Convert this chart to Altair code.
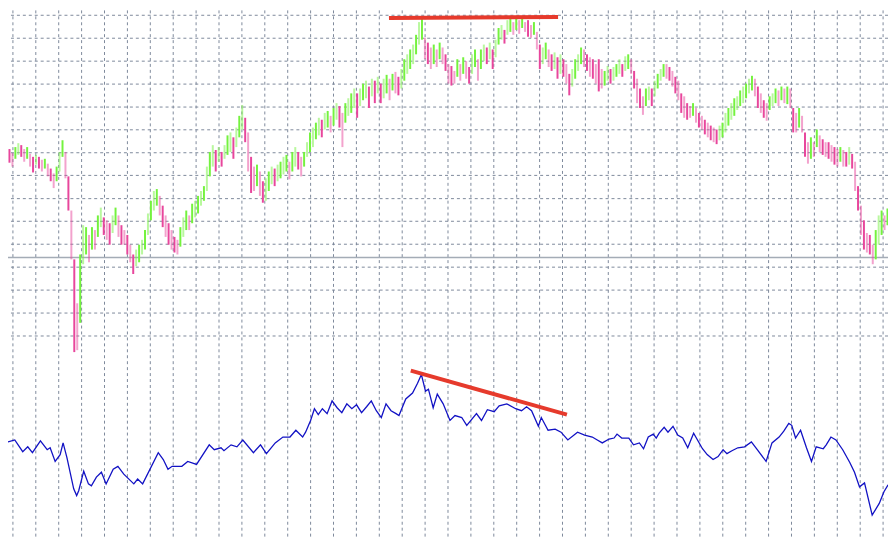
import altair as alt
import pandas as pd

# ---- price bars (values read as chart-depth units: 0 = top, larger = lower price) ----
bar_top = [
    142,146,140,136,138,142,140,147,150,148,
    150,153,152,157,162,167,160,145,133,145,
    170,205,255,300,250,220,222,230,222,225,
    210,202,212,215,218,210,202,210,220,225,
    230,240,250,245,240,235,225,208,195,185,
    183,190,200,210,218,225,232,235,222,212,
    205,210,198,195,190,185,180,160,145,138,
    143,140,145,138,128,125,130,120,108,97,
    110,125,150,160,158,165,175,172,165,160,
    162,158,155,150,148,155,145,140,145,150,
    145,135,125,120,115,110,112,105,103,108,
    100,95,98,105,95,90,85,80,85,80,
    75,72,78,70,72,68,75,70,66,70,
    65,63,68,60,50,45,40,35,25,12,
    7,28,33,38,35,40,33,38,45,55,
    57,62,50,55,48,52,58,45,40,50,
    40,35,38,33,40,30,18,15,20,10,
    8,12,6,10,8,12,10,15,12,22,
    35,38,33,40,45,43,48,45,50,55,
    65,60,50,45,38,40,45,48,50,55,
    50,60,62,57,60,58,55,50,55,47,
    45,50,62,70,80,88,80,78,80,72,
    65,60,55,55,58,62,68,72,85,88,
    95,98,95,100,105,108,112,115,118,120,
    122,118,115,105,100,95,90,88,82,78,
    75,70,67,70,78,85,92,95,88,85,
    80,82,78,80,78,80,100,105,100,108,
    125,135,130,135,122,128,132,135,135,138,
    140,142,140,143,145,140,147,155,180,200,
    215,228,230,240,225,210,205,210,203,
]
bar_bot = [
    156,160,152,148,150,155,152,160,166,158,
    162,165,162,170,175,182,175,165,150,172,
    205,255,350,348,320,260,250,258,245,245,
    232,222,230,235,240,228,220,232,240,240,
    250,258,270,262,258,250,245,230,215,205,
    200,210,222,232,240,245,248,250,242,232,
    225,225,218,212,208,200,195,185,170,160,
    165,155,160,152,148,145,152,140,130,122,
    135,165,187,185,180,190,197,195,185,178,
    180,175,172,168,165,173,165,160,163,170,
    160,150,145,140,132,128,130,122,120,125,
    118,112,120,140,115,108,105,100,110,98,
    92,90,100,88,95,85,95,90,85,92,
    82,85,87,80,72,65,60,55,45,35,
    30,50,55,60,55,58,50,55,62,75,
    77,75,68,72,65,70,75,65,58,72,
    60,52,55,50,60,48,35,30,34,25,
    22,25,20,24,18,22,27,28,25,40,
    60,55,50,58,62,60,70,65,68,75,
    87,78,70,62,55,58,62,68,70,75,
    83,80,77,72,75,72,68,65,68,62,
    60,65,80,95,100,107,98,92,98,88,
    80,72,68,70,72,78,85,92,105,110,
    112,110,108,115,120,122,127,130,133,135,
    137,133,130,125,118,112,108,102,98,95,
    90,85,82,88,100,105,110,113,102,98,
    95,98,92,95,96,100,125,125,120,125,
    150,157,152,150,140,145,148,150,152,155,
    158,160,155,160,160,158,162,185,205,230,
    245,248,250,260,255,240,230,225,220,
]

# ---- indicator line (time in bar index units, value in same depth units) ----
ind_t = [
    -0.5,1.8,4.5,6.2,7.8,10.5,12.8,13.8,15.5,17.2,18.2,19.5,21.8,22.8,23.5,25.2,
    26.8,27.8,29.5,31.2,32.8,35.2,36.8,38.8,42.2,43.5,45.2,50.5,52.2,53.8,55.2,
    58.5,60.5,63.5,67.8,69.5,71.8,72.8,75.2,77.2,79.2,82.8,85.2,87.2,90.2,92.8,
    95.2,97.2,99.5,100.5,102.2,103.5,104.8,106.2,107.8,109.5,111.2,112.8,114.5,
    116.2,117.8,119.5,121.2,122.8,124.5,126.2,127.8,129.5,131.2,132.2,134.5,136.8,
    138.5,139.8,141.2,142.2,143.8,145.2,147.2,149.5,151.2,153.5,155.2,158.5,160.2,
    162.2,164.5,166.2,168.8,171.8,173.8,175.5,177.2,179.5,180.5,182.8,185.2,187.2,
    189.5,192.8,195.2,197.8,199.5,201.2,203.5,205.2,206.2,207.8,210.2,211.8,213.8,
    215.2,216.8,218.5,219.5,220.5,222.2,223.5,225.2,226.8,228.5,230.2,232.2,235.2,
    236.8,238.8,240.5,242.2,243.5,245.2,247.2,249.5,251.8,253.8,256.8,258.8,261.2,
    262.8,264.5,265.5,266.8,268.5,270.5,272.2,273.8,276.2,277.2,278.8,280.5,282.8,
    285.2,286.8,288.5,290.2,292.8,295.2,296.8,298.2,
]
ind_v = [
    442,440,452,447,453,441,450,448,462,455,443,458,490,497,492,472,
    485,487,478,473,485,470,467,475,485,480,485,453,460,470,467,
    467,462,465,445,450,448,451,445,447,440,453,445,454,443,437,
    437,430,437,432,420,408,414,408,413,400,407,412,403,
    408,404,412,406,400,410,417,403,410,413,415,398,392,
    382,373,390,388,407,393,403,420,415,417,425,413,420,
    409,411,405,403,408,410,406,410,426,417,430,429,432,
    440,432,435,437,440,443,439,438,434,438,438,445,443,
    449,437,434,438,433,427,432,426,435,438,448,433,449,
    455,460,457,450,454,451,448,447,442,450,462,443,437,
    431,423,425,438,430,448,462,447,449,445,437,440,450,
    463,473,488,484,517,505,493,486,
]

# ---- reference lines / annotations ----
hgrid_v = [5, 28.5, 52, 75.5, 99, 122.3, 145.8, 169, 192.8, 216, 239.5, 263, 286.5, 310, 333.5]
vgrid_t = [(5 + 23.316 * k - 1.5) / 3 for k in range(39)]
level_v = [253]
trend_g = ["top", "top", "low", "low"]
trend_t = [128.8, 186.2, 136.2, 189.2]
trend_v = [7.7, 6.7, 369, 414]

# ---- tables ----
n = len(bar_top)
bars = pd.DataFrame({"t": list(range(n)), "top": bar_top, "bot": bar_bot})
bars["mid"] = (bars["top"] + bars["bot"]) / 2
bars["dir"] = ["up" if i > 0 and bars["mid"][i] < bars["mid"][i - 1] else "down" for i in range(n)]
bars["shade"] = [i % 2 for i in range(n)]

ind = pd.DataFrame({"t": ind_t, "v": ind_v})
hgrid = pd.DataFrame({"v": hgrid_v})
vgrid = pd.DataFrame({"t": vgrid_t})
level = pd.DataFrame({"v": level_v})
trend = pd.DataFrame({"g": trend_g, "t": trend_t, "v": trend_v})

xs = alt.Scale(domain=[-0.5, 298.17], nice=False, zero=False)
ys = alt.Scale(domain=[0, 540], nice=False, zero=False, reverse=True)

grid_color = "#7d899b"

vg = alt.Chart(vgrid).mark_rule(color=grid_color, strokeDash=[3, 3], strokeWidth=1).encode(
    x=alt.X("t:Q", scale=xs, axis=None)
)
hg = alt.Chart(hgrid).mark_rule(color=grid_color, strokeDash=[3, 3], strokeWidth=1).encode(
    y=alt.Y("v:Q", scale=ys, axis=None)
)
lv = alt.Chart(level).mark_rule(color="#a4acb6", strokeWidth=1.5).encode(
    y=alt.Y("v:Q", scale=ys, axis=None)
)
pb = alt.Chart(bars).mark_rule(strokeWidth=2).encode(
    x=alt.X("t:Q", scale=xs, axis=None),
    y=alt.Y("top:Q", scale=ys, axis=None),
    y2="bot:Q",
    color=alt.Color("dir:N", scale=alt.Scale(domain=["up", "down"], range=["#74f23e", "#e8469c"]), legend=None),
    opacity=alt.Opacity("shade:Q", scale=alt.Scale(domain=[0, 1], range=[1.0, 0.5]), legend=None),
)
il = alt.Chart(ind).mark_line(color="#1212c4", strokeWidth=1.3).encode(
    x=alt.X("t:Q", scale=xs, axis=None),
    y=alt.Y("v:Q", scale=ys, axis=None),
)
tl = alt.Chart(trend).mark_line(color="#e63a2c", strokeWidth=4, strokeCap="butt").encode(
    x=alt.X("t:Q", scale=xs, axis=None),
    y=alt.Y("v:Q", scale=ys, axis=None),
    detail="g:N",
)

chart = (
    alt.layer(vg, hg, lv, pb, il, tl)
    .properties(width=888, height=532, padding=0, autosize=alt.AutoSizeParams(type="none"), background="white")
    .configure_view(stroke=None)
)

chart.save("out.html", embed_options={"renderer": "svg", "actions": False})
